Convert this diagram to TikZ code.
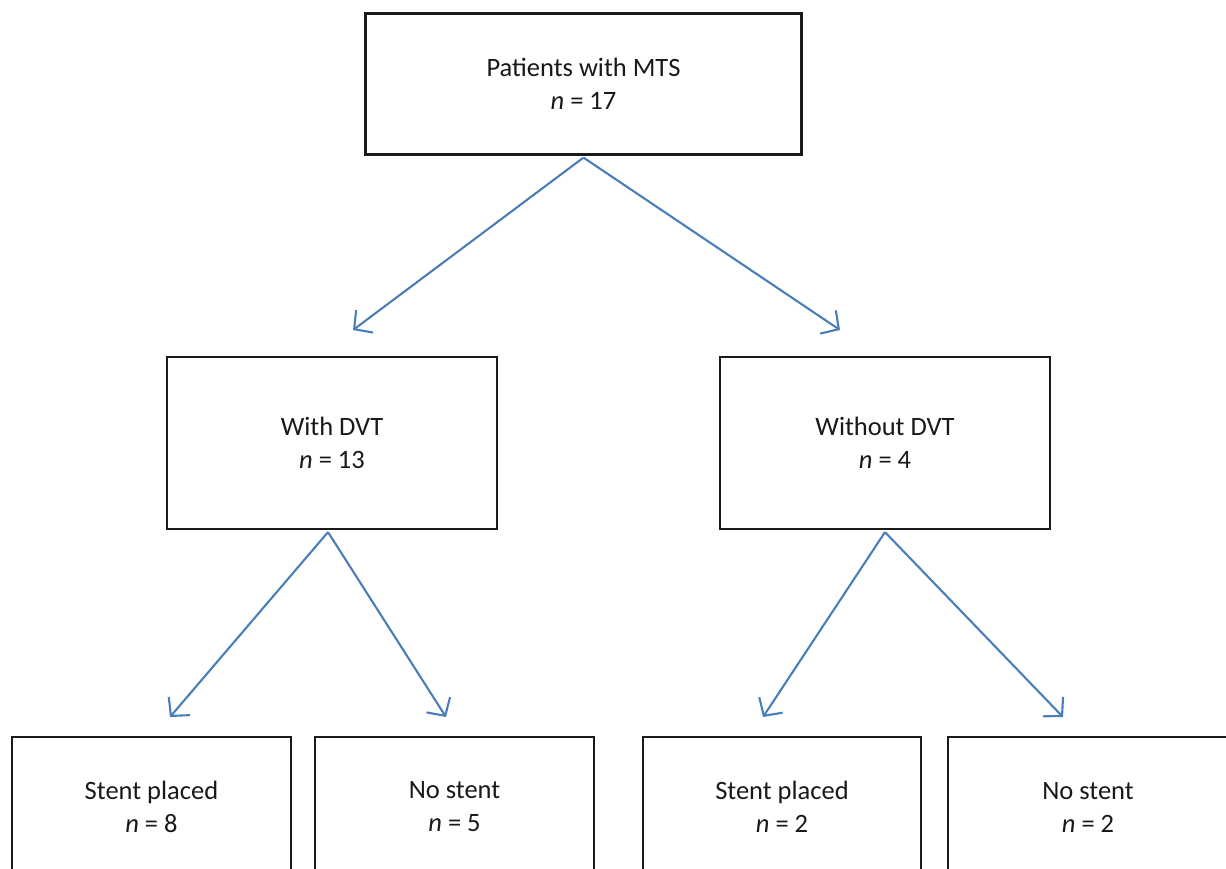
\documentclass[tikz,border=0pt]{standalone}
\usepackage{fontspec}
\setmainfont{Carlito}
\usetikzlibrary{arrows.meta}
\definecolor{arrowblue}{HTML}{4A7EBB}
\definecolor{boxline}{HTML}{1A1A1A}
\tikzset{
  box/.style={draw=boxline, line width=2.2pt, fill=white, inner sep=0pt, align=center,
    font=\fontsize{26.5}{33}\selectfont, text=black!90},
  conn/.style={draw=arrowblue, line width=2.1pt,
    -{Straight Barb[length=13pt,width=28pt,line width=2.1pt]}}
}
\begin{document}
\begin{tikzpicture}[x=1pt,y=-1pt]
\useasboundingbox (0,0) rectangle (1226,868);
\clip (0,0) rectangle (1226,868);
\fill[white] (0,0) rectangle (1226,868);
\node[box, minimum width=436pt, minimum height=141pt] (top) at (583.5,84) {Patients with MTS\\\textit{n} = 17};
\node[box, minimum width=330pt, minimum height=172pt] (wd) at (332,443) {With DVT\\\textit{n} = 13};
\node[box, minimum width=330pt, minimum height=172pt] (wod) at (885,443) {Without DVT\\\textit{n} = 4};
\node[box, minimum width=279pt, minimum height=140pt] (b1) at (151.5,807) {Stent placed\\\textit{n} = 8};
\node[box, minimum width=279pt, minimum height=140pt] (b2) at (454.5,807) {No stent\\\textit{n} = 5};
\node[box, minimum width=278pt, minimum height=140pt] (b3) at (782,807) {Stent placed\\\textit{n} = 2};
\node[box, minimum width=280pt, minimum height=140pt] (b4) at (1088,807) {No stent\\\textit{n} = 2};
\coordinate (a1) at (353,330);
\coordinate (a2) at (840,330);
\coordinate (a3) at (170,717);
\coordinate (a4) at (446,717);
\coordinate (a5) at (763,717);
\coordinate (a6) at (1063,717);
\draw[conn] ([yshift=-2pt]top.south) -- (a1);
\draw[conn] ([yshift=-2pt]top.south) -- (a2);
\draw[conn] ([xshift=-4pt,yshift=-2pt]wd.south) -- (a3);
\draw[conn] ([xshift=-4pt,yshift=-2pt]wd.south) -- (a4);
\draw[conn] ([yshift=-2pt]wod.south) -- (a5);
\draw[conn] ([yshift=-2pt]wod.south) -- (a6);
\end{tikzpicture}
\end{document}
